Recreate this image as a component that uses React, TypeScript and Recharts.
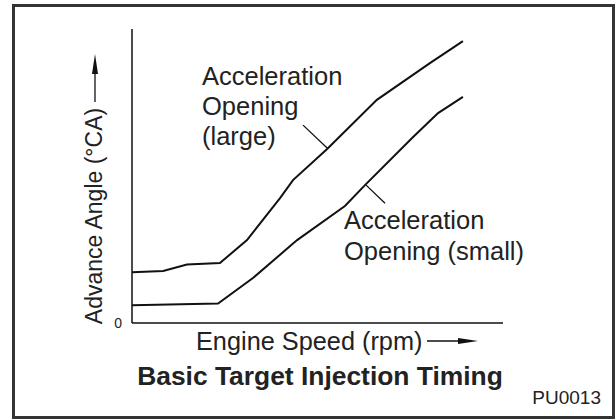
import { Line, LineChart, ReferenceLine, XAxis, YAxis } from "recharts";

// engine speed (x) and advance angle (y), both on a 0..100 relative scale
const largeX = [0, 8.4, 14.8, 23.7, 31.0, 39.9, 43.4, 52.6, 66.0, 80.3, 89.2];
const largeY = [17.3, 17.7, 19.9, 20.4, 28.2, 42.5, 48.6, 59.2, 75.9, 88.4, 95.9];
const smallX = [0, 23.2, 32.6, 44.5, 57.4, 62.8, 75.5, 82.5, 89.2];
const smallY = [6.0, 6.6, 15.3, 28.2, 39.8, 46.9, 62.9, 71.4, 76.9];
const yTicks = [0];

// leader lines from labels to curves
const largeLeader = [
  { x: 46.1, y: 67.3 },
  { x: 52.6, y: 59.5 },
];
const smallLeader = [
  { x: 63.1, y: 46.9 },
  { x: 68.2, y: 40.7 },
];

const largeLabel = ["Acceleration", "Opening", "(large)"];
const smallLabel = ["Acceleration", "Opening (small)"];

const largeData = largeX.map((x, i) => ({ x, y: largeY[i] }));
const smallData = smallX.map((x, i) => ({ x, y: smallY[i] }));

const font = '"Liberation Sans", Arial, Helvetica, sans-serif';
const ink = "#222";

export default function App() {
  return (
    <div style={{ position: "absolute", left: 0, top: 0, width: 616, height: 420, background: "#fff" }}>
      <LineChart width={616} height={420} margin={{ top: 29, right: 113, bottom: 67, left: 72 }}>
        <rect x={13.5} y={5.5} width={600} height={412} fill="none" stroke="#333" strokeWidth={3} />
        <XAxis
          type="number"
          dataKey="x"
          domain={[0, 100]}
          height={30}
          tick={false}
          tickLine={false}
          axisLine={{ stroke: "#111", strokeWidth: 1.5 }}
        />
        <YAxis
          type="number"
          dataKey="y"
          domain={[0, 100]}
          width={60}
          ticks={yTicks}
          tickLine={false}
          tickMargin={4}
          tick={{ fontSize: 14, fill: ink, fontFamily: font }}
          axisLine={{ stroke: "#111", strokeWidth: 1.5 }}
        />
        <Line data={largeData} dataKey="y" type="linear" stroke="#111" strokeWidth={2} dot={false} isAnimationActive={false} />
        <Line data={smallData} dataKey="y" type="linear" stroke="#111" strokeWidth={2} dot={false} isAnimationActive={false} />
        <ReferenceLine segment={largeLeader} stroke="#111" strokeWidth={1.3} />
        <ReferenceLine segment={smallLeader} stroke="#111" strokeWidth={1.3} />

        <g fontFamily={font} fill={ink}>
          {largeLabel.map((t, i) => (
            <text key={t} x={202} y={85 + i * 30} fontSize={25.5}>
              {t}
            </text>
          ))}
          {smallLabel.map((t, i) => (
            <text key={t} x={344} y={229 + i * 31} fontSize={25.5}>
              {t}
            </text>
          ))}
          <text x={0} y={0} fontSize={23} textAnchor="middle" transform="translate(102 216) rotate(-90)">
            Advance Angle (°CA)
          </text>
          <text x={196} y={350} fontSize={25.3}>
            Engine Speed (rpm)
          </text>
          <text x={320} y={385} fontSize={26.4} fontWeight="bold" textAnchor="middle">
            Basic Target Injection Timing
          </text>
          <text x={601} y={404} fontSize={19} textAnchor="end">
            PU0013
          </text>
        </g>
        <line x1={95} y1={102} x2={95} y2={70} stroke="#111" strokeWidth={1.3} />
        <path d="M95 54 L98 74 L92 74 Z" fill="#111" />
        <line x1={427} y1={341} x2={462} y2={341} stroke="#111" strokeWidth={1.3} />
        <path d="M478 341 L458 338 L458 344 Z" fill="#111" />
      </LineChart>
    </div>
  );
}
